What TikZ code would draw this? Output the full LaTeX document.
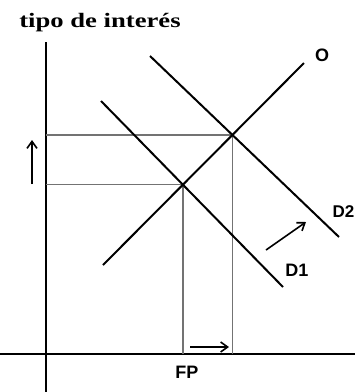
\documentclass[tikz,border=0pt]{standalone}
\usepackage{fontspec}
\setmainfont{Liberation Serif}
\newfontfamily\lblfont{Liberation Sans}
\usetikzlibrary{arrows.meta}
\begin{document}
\begin{tikzpicture}[x=1pt,y=-1pt,
  axis/.style={line width=1.8pt,black},
  curve/.style={line width=2pt,black},
  guide/.style={line width=1.3pt,black!55},
  shift arrow/.style={line width=1.6pt,-{Straight Barb[length=7pt,width=10pt,line width=1.6pt]}},
  lbl/.style={font=\lblfont\bfseries\fontsize{18}{18}\selectfont,inner sep=0pt}]
\useasboundingbox (0,0) rectangle (355,392);
\fill[white] (0,0) rectangle (355,392);
% axes
\coordinate (ytop) at (46,42);
\coordinate (ybot) at (46,392);
\coordinate (xl) at (0,354);
\coordinate (xr) at (355,354);
\draw[axis] (ytop) -- (ybot);
\draw[axis] (xl) -- (xr);
% curves
\coordinate (s1) at (103,265);
\coordinate (s2) at (304,63);
\coordinate (d1a) at (101,101);
\coordinate (d1b) at (283,287);
\coordinate (d2a) at (150,56);
\coordinate (d2b) at (339,237);
\coordinate (E1) at (intersection of s1--s2 and d1a--d1b);
\coordinate (E2) at (intersection of s1--s2 and d2a--d2b);
% guides
\draw[guide] (E1 -| ytop) -- (E1) -- (E1 |- xl);
\draw[guide] (E2 -| ytop) -- (E2) -- (E2 |- xl);
\draw[curve] (s1) -- (s2);
\draw[curve] (d1a) -- (d1b);
\draw[curve] (d2a) -- (d2b);
% labels
\node[anchor=base,inner sep=0pt] (title) at (100,27)
  {\scalebox{1.3}[1]{\bfseries\fontsize{20.5}{20.5}\selectfont tipo de interés}};
\node[lbl] (O) at (322,55) {O};
\node[lbl,anchor=east,font=\lblfont\bfseries\fontsize{17}{17}\selectfont] (D2) at (354.5,212) {D2};
\node[lbl] (D1) at (297,270) {D1};
\node[lbl] (FP) at (187,372) {FP};
% shift arrows
\coordinate (ua1) at (32,184);
\coordinate (ua2) at (32,140);
\draw[shift arrow] (ua1) -- (ua2);
\coordinate (ra1) at (190,347);
\coordinate (ra2) at (229,347);
\draw[shift arrow] (ra1) -- (ra2);
\coordinate (da1) at (266,250);
\coordinate (da2) at (306,222);
\draw[shift arrow] (da1) -- (da2);
\end{tikzpicture}
\end{document}
